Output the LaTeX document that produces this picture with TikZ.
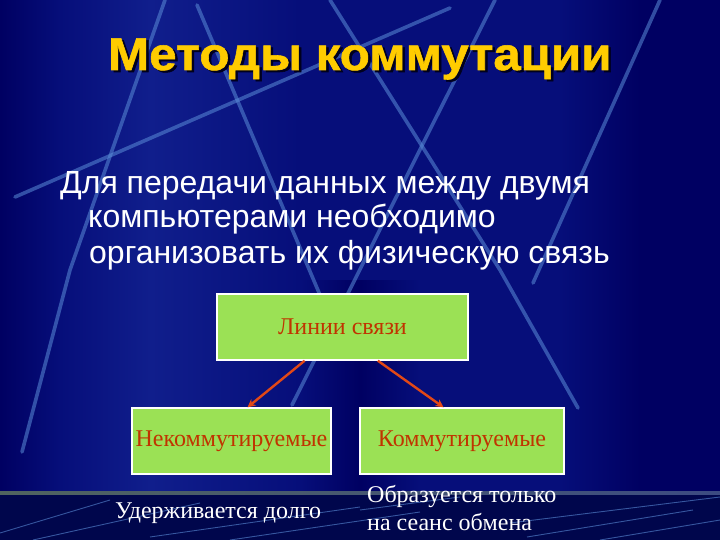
\documentclass[tikz,border=0pt]{standalone}
\usepackage{fontspec}
\setmainfont{Liberation Serif}
\newfontfamily\arialfont{Liberation Sans}
\newfontfamily\titlefont[FakeStretch=1.07,FakeBold=1.2]{Liberation Sans Bold}
\usetikzlibrary{arrows.meta,calc}
\definecolor{bgbase}{RGB}{6,14,122}
\definecolor{bgdark}{RGB}{0,0,98}
\definecolor{bglight}{RGB}{16,30,140}
\definecolor{stripbg}{RGB}{0,6,76}
\definecolor{streak}{RGB}{90,140,215}
\definecolor{titleyellow}{RGB}{255,204,0}
\definecolor{titleshade}{RGB}{0,0,30}
\definecolor{boxgreen}{RGB}{155,225,85}
\definecolor{boxtext}{RGB}{192,52,0}
\definecolor{arrowred}{RGB}{226,72,22}
\definecolor{sepA}{RGB}{80,100,95}
\definecolor{sepB}{RGB}{165,185,125}
\definecolor{sepC}{RGB}{60,75,130}
\newcommand{\shadowtitle}[1]{\makebox[0pt][l]{\hspace{2.5pt}\raisebox{-2pt}{\textcolor{titleshade}{#1}}}\textcolor{titleyellow}{#1}}
\begin{document}
\begin{tikzpicture}[x=1pt,y=-1pt,
  bgline/.style={draw=streak, line width=3.6pt, line cap=round, opacity=0.55},
  thinstreak/.style={draw=streak, line width=0.9pt, opacity=0.6},
  greenbox/.style={draw=white, line width=1.4pt, fill=boxgreen, inner sep=0pt,
     text=boxtext, font=\fontsize{24}{26}\selectfont},
  conn/.style={draw=arrowred, line width=2.4pt, -{Stealth[length=8pt,width=8pt]}},
  bodytext/.style={anchor=base west, inner sep=0pt, text=white,
     font=\arialfont\fontsize{32}{36}\selectfont},
  bottomtext/.style={anchor=base west, inner sep=0pt, text=white,
     font=\fontsize{24}{28}\selectfont},
  titletext/.style={anchor=base west, inner sep=0pt,
     font=\titlefont\fontsize{46}{46}\selectfont}]
\useasboundingbox (0,0) rectangle (720,540);
% background
\fill[bgbase] (0,0) rectangle (720,540);
\shade[left color=bgdark, right color=bgbase] (0,0) rectangle (60,493);
\shade[left color=bgbase, right color=bglight] (60,0) rectangle (150,493);
\shade[left color=bglight, right color=bgbase] (150,0) rectangle (300,493);
\shade[left color=bgbase, right color=bgdark] (300,280) rectangle (360,493);
\shade[left color=bgdark, right color=bgbase] (360,280) rectangle (420,493);
\shade[left color=bgbase, right color=bgdark] (560,0) rectangle (640,493);
\fill[bgdark] (640,0) rectangle (720,493);
% background lines
\draw[bgline] (165,0) -- (70,270) -- (22,452);
\draw[bgline] (197,5) -- (320,295);
\draw[bgline] (15,197) -- (450,8);
\draw[bgline] (330,0) -- (500,270) -- (578,408);
\draw[bgline] (495,0) -- (292,405);
\draw[bgline] (660,0) -- (533,283);
% bottom strip
\fill[stripbg] (0,493) rectangle (720,540);
\shade[left color=sepA, middle color=sepB, right color=sepC] (0,491) rectangle (720,494.5);
\draw[thinstreak] (0,533) -- (110,500);
\draw[thinstreak] (33,540) -- (200,503);
\draw[thinstreak] (150,537) -- (360,507);
\draw[thinstreak] (230,540) -- (420,512);
\draw[thinstreak] (360,510) -- (460,497);
\draw[thinstreak] (510,523) -- (720,497);
\draw[thinstreak] (527,537) -- (693,510);
\draw[thinstreak] (600,540) -- (720,520);
% title
\node[titletext] (title) at (108,70) {\shadowtitle{Методы коммутации}};
% body
\node[bodytext] (l1) at (60,194) {Для передачи данных между двумя};
\node[bodytext] (l2) at (88,228) {компьютерами необходимо};
\node[bodytext] (l3) at (89,263) {организовать их физическую связь};
% boxes
\node[greenbox, minimum width=251pt, minimum height=66pt] (top) at (342.5,327) {Линии связи};
\node[greenbox, minimum width=199pt, minimum height=66pt] (nk) at (231.5,441) {Некоммутируемые};
\node[greenbox, minimum width=204pt, minimum height=66pt] (kk) at (462,441) {Коммутируемые};
% connectors
\draw[conn] ($(top.south west)!0.35!(top.south east)$) -- ($(nk.north west)!0.58!(nk.north east)$);
\draw[conn] ($(top.south west)!0.64!(top.south east)$) -- ($(kk.north west)!0.41!(kk.north east)$);
% bottom texts
\node[bottomtext] (hold) at (115,518) {Удерживается долго};
\node[bottomtext] (form1) at (367,502) {Образуется только};
\node[bottomtext] (form2) at (367,530) {на сеанс обмена};
\end{tikzpicture}
\end{document}
